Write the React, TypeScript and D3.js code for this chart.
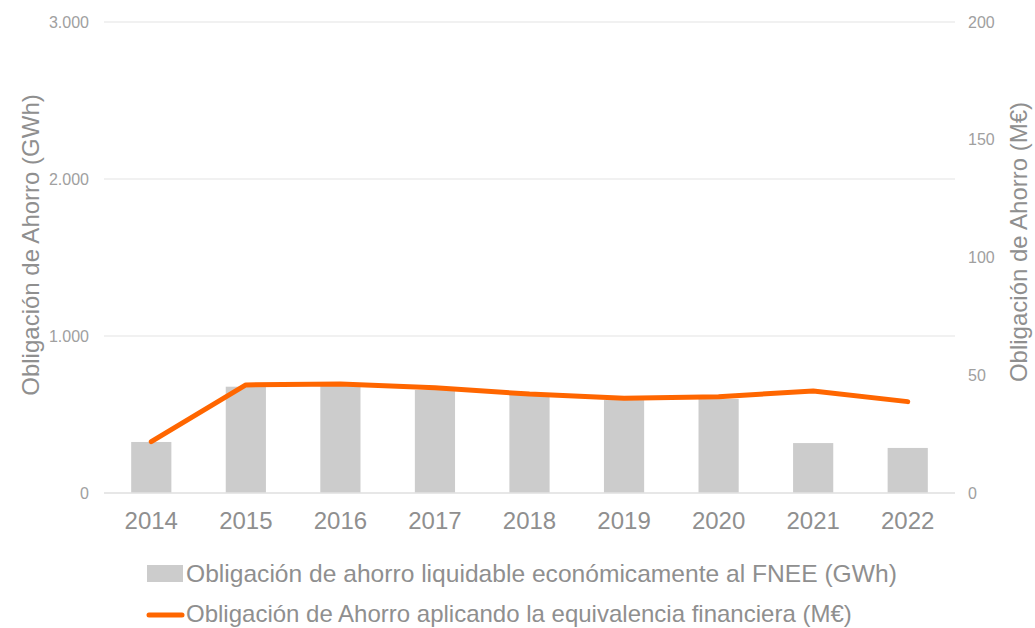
import React from "react";
import * as d3 from "d3";

const years = ["2014", "2015", "2016", "2017", "2018", "2019", "2020", "2021", "2022"];
const gwhValues = [325, 677, 690, 656, 624, 592, 599, 318, 287];
const meurValues = [21.8, 45.9, 46.3, 44.7, 42.0, 40.2, 40.9, 43.3, 38.8];
const leftTicks = [0, 1000, 2000, 3000];
const rightTicks = [0, 50, 100, 150, 200];
const barLegend = "Obligación de ahorro liquidable económicamente al FNEE (GWh)";
const lineLegend = "Obligación de Ahorro aplicando la equivalencia financiera (M€)";
const leftTitle = "Obligación de Ahorro (GWh)";
const rightTitle = "Obligación de Ahorro (M€)";

const W = 1035, H = 628;
const left = 104, right = 955, top = 22, bottom = 493;
const font = "'Liberation Sans', Arial, sans-serif";
const gray = "#8f8f8f";
const tickGray = "#a0a0a0";

export default function App() {
  const x = d3.scaleBand<string>().domain(years).range([left, right]).paddingInner(0.575).paddingOuter(0.2875);
  const yL = d3.scaleLinear().domain([0, 3000]).range([bottom, top]);
  const yR = d3.scaleLinear().domain([0, 200]).range([bottom, top]);
  const fmt = (v: number) => (v === 0 ? "0" : d3.format(",")(v).replace(/,/g, "."));
  const line = d3
    .line<number>()
    .x((_, i) => (x(years[i]) as number) + x.bandwidth() / 2)
    .y((d) => yR(d));

  return (
    <svg width={W} height={H} style={{ position: "absolute", left: 0, top: 0, fontFamily: font }}>
      <rect width={W} height={H} fill="#fff" />
      {leftTicks.map((t) => (
        <g key={"l" + t}>
          <line x1={left} x2={right} y1={yL(t)} y2={yL(t)} stroke="#e3e3e3" strokeWidth={1.2} />
          <text x={89} y={yL(t)} dy="0.35em" textAnchor="end" fontSize={16} fill={tickGray}>
            {fmt(t)}
          </text>
        </g>
      ))}
      {rightTicks.map((t) => (
        <text key={"r" + t} x={968} y={yR(t)} dy="0.35em" textAnchor="start" fontSize={16} fill={tickGray}>
          {t}
        </text>
      ))}
      {years.map((yr, i) => (
        <rect
          key={yr}
          x={x(yr)}
          y={yL(gwhValues[i])}
          width={x.bandwidth()}
          height={bottom - yL(gwhValues[i])}
          fill="#cccccc"
        />
      ))}
      <line x1={left} x2={right} y1={bottom} y2={bottom} stroke="#e3e3e3" strokeWidth={1.5} />
      <path d={line(meurValues) || ""} fill="none" stroke="#ff6600" strokeWidth={5} strokeLinejoin="round" strokeLinecap="round" />
      {years.map((yr) => (
        <text key={"x" + yr} x={(x(yr) as number) + x.bandwidth() / 2} y={521} dy="0.35em" textAnchor="middle" fontSize={24} fill={gray}>
          {yr}
        </text>
      ))}
      <text transform={`translate(31,245) rotate(-90)`} textAnchor="middle" dy="0.35em" fontSize={24} fill={gray}>
        {leftTitle}
      </text>
      <text transform={`translate(1019,242) rotate(-90)`} textAnchor="middle" dy="0.35em" fontSize={24} fill={gray}>
        {rightTitle}
      </text>
      <rect x={147} y={565} width={36} height={17} fill="#cccccc" />
      <text x={186} y={573.5} dy="0.35em" fontSize={24.6} fill={gray}>
        {barLegend}
      </text>
      <line x1={149} x2={182} y1={615} y2={615} stroke="#ff6600" strokeWidth={5} strokeLinecap="round" />
      <text x={186} y={614} dy="0.35em" fontSize={24} fill={gray}>
        {lineLegend}
      </text>
    </svg>
  );
}
